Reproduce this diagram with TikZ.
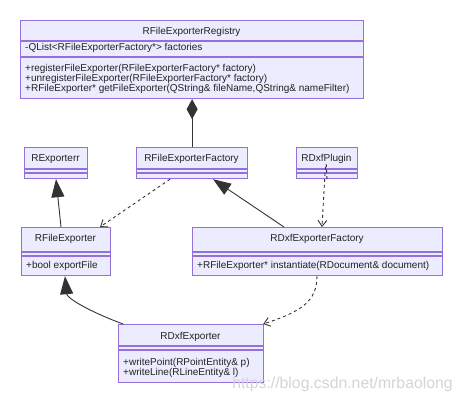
\documentclass[tikz,border=0pt]{standalone}
\usepackage{fontspec}
\setmainfont{Liberation Sans}
\usetikzlibrary{arrows.meta,calc}
\definecolor{boxfill}{HTML}{ECECFF}
\definecolor{boxline}{HTML}{9370DB}
\definecolor{edge}{HTML}{333333}
\definecolor{txt}{HTML}{222222}
\definecolor{wm}{HTML}{D4D4D4}
\tikzset{
  classbox/.style={draw=boxline, fill=boxfill, line width=1.2pt, anchor=north west, inner sep=0pt},
  divider/.style={draw=boxline, line width=1.2pt},
  ttl/.style={font=\fontsize{10}{12}\selectfont, text=txt, inner sep=0pt},
  mem/.style={font=\fontsize{10}{12}\selectfont, text=txt, inner sep=0pt, anchor=west},
  edgeline/.style={draw=edge, line width=0.9pt},
  inh/.style={edgeline, -{Triangle[length=18pt,width=13pt,fill=edge]}},
  comp/.style={edgeline, -{Diamond[length=20pt,width=11pt,fill=edge]}},
  dep/.style={edgeline, dashed, dash pattern=on 3pt off 3pt, -{Straight Barb[length=6pt,width=9pt]}},
}
\begin{document}
\begin{tikzpicture}[x=1pt,y=-1pt]
\useasboundingbox (0,0) rectangle (461,402);
% RFileExporterRegistry
\node[classbox, minimum width=343pt, minimum height=78pt] (reg) at (20,20) {};
\draw[divider] (20,41) -- (363,41);
\draw[divider] (20,57) -- (363,57);
\node[ttl] (regt) at (191.5,32) {RFileExporterRegistry};
\node[mem] (rega) at (25,48) {-QList<RFileExporterFactory*> factories};
\node[mem] (regm1) at (25,69) {+registerFileExporter(RFileExporterFactory* factory)};
\node[mem] (regm2) at (25,79) {+unregisterFileExporter(RFileExporterFactory* factory)};
\node[mem] (regm3) at (25,89) {+RFileExporter* getFileExporter(QString\& fileName,QString\& nameFilter)};
% RExporterr
\node[classbox, minimum width=63pt, minimum height=31pt] (rexp) at (24,147) {};
\draw[divider] (24,169) -- (87,169);
\draw[divider] (24,173) -- (87,173);
\node[ttl] (rexpt) at (55.5,159) {RExporterr};
% RFileExporterFactory
\node[classbox, minimum width=111pt, minimum height=31pt] (rfef) at (136,147) {};
\draw[divider] (136,169) -- (247,169);
\draw[divider] (136,173) -- (247,173);
\node[ttl] (rfeft) at (191.5,159) {RFileExporterFactory};
% RDxfPlugin
\node[classbox, minimum width=61pt, minimum height=31pt] (rdp) at (296,147) {};
\draw[divider] (296,169) -- (357,169);
\draw[divider] (296,173) -- (357,173);
\node[ttl] (rdpt) at (326.5,159) {RDxfPlugin};
% RFileExporter
\node[classbox, minimum width=89pt, minimum height=48pt] (rfe) at (21,227) {};
\draw[divider] (21,252) -- (110,252);
\draw[divider] (21,256) -- (110,256);
\node[ttl] (rfet) at (65.5,239) {RFileExporter};
\node[mem] (rfem) at (26,266) {+bool exportFile};
% RDxfExporterFactory
\node[classbox, minimum width=250pt, minimum height=48pt] (rdef) at (192,227) {};
\draw[divider] (192,252) -- (442,252);
\draw[divider] (192,256) -- (442,256);
\node[ttl] (rdeft) at (317,239) {RDxfExporterFactory};
\node[mem] (rdefm) at (197,266) {+RFileExporter* instantiate(RDocument\& document)};
% RDxfExporter
\node[classbox, minimum width=145pt, minimum height=58pt] (rdx) at (118,324) {};
\draw[divider] (118,346) -- (263,346);
\draw[divider] (118,350) -- (263,350);
\node[ttl] (rdxt) at (190.5,337) {RDxfExporter};
\node[mem] (rdxm1) at (123,363) {+writePoint(RPointEntity\& p)};
\node[mem] (rdxm2) at (123,373) {+writeLine(RLineEntity\& l)};
% connectors
\draw[comp] (rfef.north) -- (reg.south);
\draw[inh] ([xshift=40pt]rfe.north west) -- ([xshift=32pt]rexp.south west);
\draw[dep] ([xshift=34pt]rfef.south west) -- ([xshift=79pt]rfe.north west);
\draw[inh] ([xshift=92pt]rdef.north west) -- ([xshift=77pt]rfef.south west);
\draw[dep] ([xshift=31pt]rdp.south west) .. controls ([xshift=30pt,yshift=25pt]rdp.south west) .. ([xshift=130pt]rdef.north west);
\draw[dep] ([xshift=125pt]rdef.south west) .. controls (317,302) and (300,312) .. ([xshift=-1pt]rdx.north east);
\draw[inh] ([xshift=5pt]rdx.north west) .. controls (88,311) and (67,298) .. ([xshift=44pt]rfe.south west);
% watermark
\node[font=\fontsize{15.8}{18}\selectfont, text=wm, inner sep=0pt] (wmark) at (342.5,384) {https://blog.csdn.net/mrbaolong};
\end{tikzpicture}
\end{document}
